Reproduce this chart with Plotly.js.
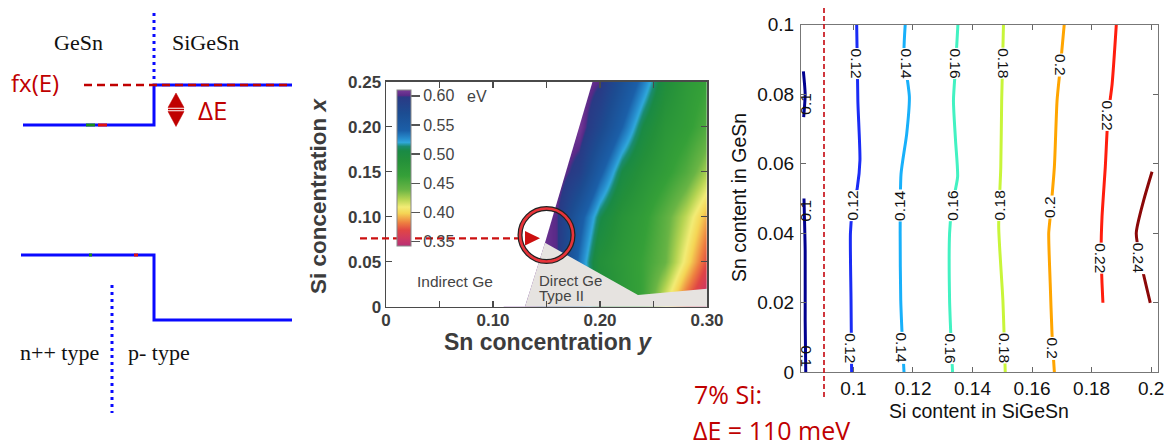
<!DOCTYPE html>
<html><head><meta charset="utf-8">
<script src="https://cdn.plot.ly/plotly-3.0.1.min.js"></script>
<style>html,body{margin:0;padding:0;background:#fff;overflow:hidden}</style>
</head><body><div id="chart" style="width:1170px;height:446px"></div>
<script>
// ---------- Left: band diagram (schematic, panel pixel units) ----------
const cbX = [23,154,154,292], cbY = [125,125,85,85];
const vbX = [21,154,154,292], vbY = [255,255,320,320];
const fermiX = [84,290], fermiY = [85,85];
const ifaceX = [154,154], ifaceY = [13,83];
const junctionX = [112,112], junctionY = [285,413];
const markGreenUpX = [86,95], markGreenUpY = [125,125];
const markRedUpX = [98,107], markRedUpY = [125,125];
const markGreenLoX = [89,92], markGreenLoY = [255,255];
const markRedLoX = [134,138], markRedLoY = [255,255];
const arrowUpX = [168,176,184,168], arrowUpY = [107.5,93,107.5,107.5];
const arrowDnX = [168,176,184,168], arrowDnY = [111.5,126.5,111.5,111.5];

// ---------- Middle: bandgap map (Sn concentration y, Si concentration x) ----------
const snGrid = [0.12,0.14,0.16,0.18,0.20,0.22,0.24,0.26,0.28,0.30];
const siGrid = [0,0.05,0.10,0.15,0.20,0.25];
const bandgapE = [
  [0.61,0.60,0.58,0.54,0.50,0.478,0.46,0.41,0.37,0.34],
  [0.61,0.61,0.60,0.535,0.49,0.475,0.46,0.44,0.405,0.37],
  [0.61,0.61,0.60,0.55,0.508,0.483,0.468,0.445,0.42,0.39],
  [0.61,0.61,0.61,0.59,0.545,0.505,0.485,0.468,0.45,0.425],
  [0.61,0.61,0.61,0.61,0.578,0.54,0.505,0.48,0.468,0.45],
  [0.61,0.61,0.61,0.61,0.60,0.565,0.532,0.495,0.475,0.462]
];
const indirectSn = [0,0.1299,0.1486,0.193,0], indirectSi = [0,0,0.071,0.25,0.25];
const typeIISn = [0.1299,0.1486,0.2355,0.30,0.30], typeIISi = [0,0.071,0.013,0.020,0];
const cbarVals = [0.35,0.40,0.45,0.50,0.55,0.60];
const cbarText = ['0.35','0.40','0.45','0.50','0.55','0.60'];
const mapXTicks = [0,0.05,0.10,0.15,0.20,0.25,0.30];
const mapXText = ['0','','0.10','','0.20','','0.30'];
const mapYTicks = [0,0.05,0.10,0.15,0.20,0.25];
const mapYText = ['0','0.05','0.10','0.15','0.20','0.25'];

// ---------- Right: contour lines (Si content in SiGeSn, Sn content in GeSn) ----------
const c010aX=[0.0832,0.0838,0.0833], c010aY=[0.0866,0.080,0.0734];
const c010bX=[0.0834,0.0838,0.0838,0.0840], c010bY=[0.050,0.035,0.015,0];
const c012X=[0.1011,0.1015,0.1022,0.1013,0.0996,0.0990,0.0992,0.0994], c012Y=[0.1,0.078,0.061,0.053,0.046,0.040,0.021,0];
const c014X=[0.1174,0.1170,0.1188,0.1179,0.1160,0.1157,0.1159,0.1166,0.1170], c014Y=[0.1,0.0917,0.0792,0.0686,0.0571,0.040,0.0208,0.0064,0];
const c016X=[0.1351,0.1343,0.1336,0.1343,0.1350,0.1331,0.1323,0.1323,0.1327,0.1333], c016Y=[0.1,0.0878,0.0782,0.0667,0.0562,0.0476,0.04,0.0208,0.0112,0];
const c018X=[0.1504,0.1498,0.1495,0.1488,0.1502,0.1510], c018Y=[0.1,0.0782,0.0591,0.0419,0.0208,0];
const c020X=[0.1708,0.1695,0.1684,0.1675,0.1661,0.1656,0.1661,0.1667,0.1675], c020Y=[0.1,0.0878,0.0782,0.0591,0.0447,0.04,0.0256,0.0112,0];
const c022X=[0.1883,0.1869,0.1855,0.1846,0.1835,0.1832,0.1835,0.1838], c022Y=[0.1,0.083,0.0734,0.0591,0.0447,0.0352,0.0256,0.02];
const c024X=[0.2003,0.1975,0.1950,0.1969,0.1997], c024Y=[0.0577,0.0495,0.04,0.0303,0.02];
const clabText = ['0.1','0.12','0.14','0.16','0.18','0.2','0.22','0.1','0.12','0.14','0.16','0.18','0.2','0.22','0.24','0.1','0.12','0.14','0.16','0.18','0.2'];
const clabX = [0.0841,0.1009,0.1177,0.1342,0.1504,0.1695,0.1855,0.0838,0.0998,0.1157,0.1334,0.1491,0.1661,0.1832,0.1958,0.0841,0.0992,0.1163,0.1327,0.1507,0.1670];
const clabY = [0.0773,0.0888,0.0888,0.0888,0.0888,0.0883,0.0739,0.0466,0.0479,0.0479,0.0479,0.0479,0.0476,0.0328,0.0328,0.0045,0.0069,0.0069,0.0069,0.0069,0.0069];
const clabAngle = [-90,90,90,90,90,90,90,-90,-90,-90,-90,-90,-90,90,90,90,90,90,90,90,90];
const ctXTicks = [0.1,0.12,0.14,0.16,0.18,0.2], ctXText = ['0.1','0.12','0.14','0.16','0.18','0.2'];
const ctYTicks = [0,0.02,0.04,0.06,0.08,0.1], ctYText = ['0','0.02','0.04','0.06','0.08','0.1'];

// ---------- styles ----------
const RED = '#c00000', BLUE = '#0a0aff';
const SANS = 'Liberation Sans, Arial, sans-serif';
const SERIF = 'Liberation Serif, Times New Roman, serif';
const SEGOE = 'Open Sans, Noto Sans, sans-serif';

const traces = [];
function pline(x, y, color, width, dash) {
  traces.push({x, y, xaxis:'x', yaxis:'y', mode:'lines', hoverinfo:'skip',
    line:{color, width, dash: dash || 'solid'}});
}
pline(cbX, cbY, BLUE, 3);
pline(vbX, vbY, BLUE, 3);
pline(markGreenUpX, markGreenUpY, '#1a8a1a', 3);
pline(markRedUpX, markRedUpY, '#e01010', 3);
pline(markGreenLoX, markGreenLoY, '#1a8a1a', 3);
pline(markRedLoX, markRedLoY, '#e01010', 3);
pline(fermiX, fermiY, RED, 2.5, '8px,5px');
pline(ifaceX, ifaceY, BLUE, 3, '3px,4px');
pline(junctionX, junctionY, BLUE, 3, '3px,4px');
[[arrowUpX, arrowUpY],[arrowDnX, arrowDnY]].forEach(([x,y]) => traces.push({
  x, y, xaxis:'x', yaxis:'y', mode:'lines', fill:'toself', fillcolor:RED,
  line:{color:RED, width:0.5}, hoverinfo:'skip'}));
pline([168,184],[109.5,109.5], RED, 1.5);

// heatmap
traces.push({
  type:'heatmap', x:snGrid, y:siGrid, z:bandgapE, xaxis:'x2', yaxis:'y2',
  zsmooth:'best', zmin:0.3426, zmax:0.61, hoverinfo:'skip',
  colorscale:[
    [0,'#b83075'],[0.05,'#d03a60'],[0.10,'#e04545'],[0.15,'#ee8040'],
    [0.21,'#f5d555'],[0.25,'#f2ec75'],[0.30,'#b5d452'],[0.36,'#6ab545'],
    [0.45,'#35a038'],[0.55,'#24903a'],[0.61,'#1a8a45'],[0.638,'#1a8c70'],
    [0.664,'#30a8dc'],[0.685,'#2890d0'],[0.74,'#1b5fa8'],[0.85,'#1c4d92'],
    [0.955,'#2a3a85'],[0.965,'#5a2a88'],[1,'#7a3a98']],
  colorbar:{x:396.5/1170, xanchor:'left', y:1-168/446, yanchor:'middle',
    len:156/446, lenmode:'fraction', thickness:14, thicknessmode:'pixels',
    outlinewidth:1, outlinecolor:'#888', xpad:0, ypad:0,
    ticks:'outside', ticklen:9, tickwidth:1.5, tickcolor:'#555',
    tickvals:cbarVals, ticktext:cbarText,
    tickfont:{family:SANS, size:16, color:'#444'}}
});
traces.push({x:indirectSn, y:indirectSi, xaxis:'x2', yaxis:'y2', mode:'none',
  fill:'toself', fillcolor:'#ffffff', hoverinfo:'skip'});
traces.push({x:typeIISn, y:typeIISi, xaxis:'x2', yaxis:'y2', mode:'none',
  fill:'toself', fillcolor:'#e6e3e0', hoverinfo:'skip'});

// contours
const ccol = {'0.1':'#00008f','0.12':'#1a2cf5','0.14':'#18b0fa','0.16':'#42f2c2',
  '0.18':'#c8f53a','0.2':'#ffa500','0.22':'#ff1e0e','0.24':'#8b0808'};
[[c010aX,c010aY,'0.1'],[c010bX,c010bY,'0.1'],[c012X,c012Y,'0.12'],[c014X,c014Y,'0.14'],
 [c016X,c016Y,'0.16'],[c018X,c018Y,'0.18'],[c020X,c020Y,'0.2'],[c022X,c022Y,'0.22'],
 [c024X,c024Y,'0.24']].forEach(([x,y,l]) => traces.push({
  x, y, xaxis:'x3', yaxis:'y3', mode:'lines', hoverinfo:'skip',
  line:{color:ccol[l], width:3, shape:'spline', smoothing:0.6}}));

// ---------- annotations ----------
const ann = [];
function txt(text, x, y, size, family, color, extra) {
  ann.push(Object.assign({text, x, y, xref:'x', yref:'y', showarrow:false,
    xanchor:'center', yanchor:'middle', font:{size, family, color}}, extra || {}));
}
txt('GeSn', 78.7, 42, 22, SERIF, '#111');
txt('SiGeSn', 205, 42, 22, SERIF, '#111');
txt('fx(E)', 35.3, 82, 24, SEGOE, RED);
txt('ΔE', 213.3, 110, 26, SEGOE, RED);
txt('n++ type', 59, 352, 22, SERIF, '#111');
txt('p- type', 158.7, 352, 22, SERIF, '#111');

const mapFont = {family:SANS, size:22.5, color:'#3c3c3c', weight:700};
ann.push({text:'Si concentration <i>x</i>', x:318, y:196, xref:'x', yref:'y', showarrow:false,
  textangle:-90, font:mapFont});
ann.push({text:'Sn concentration <i>y</i>', x:547.5, y:342, xref:'x', yref:'y', showarrow:false,
  font:Object.assign({}, mapFont, {size:23})});
txt('eV', 476.7, 96, 16, SANS, '#444');
txt('Indirect Ge', 455.3, 281, 15.5, SANS, '#444');
txt('Direct Ge', 538, 280.5, 15, SANS, '#444', {xanchor:'left', borderpad:0});
txt('Type II', 538, 295, 15, SANS, '#444', {xanchor:'left', borderpad:0});

ann.push({text:'Sn content in GeSn', x:739, y:198, xref:'x', yref:'y', showarrow:false,
  textangle:-90, font:{family:SANS, size:19.5, color:'#111'}});
txt('Si content in SiGeSn', 979, 411, 19.5, SANS, '#111');
txt('7% Si:', 692, 394, 25, SEGOE, RED, {xanchor:'left'});
txt('ΔE = 110 meV', 692, 430, 25, SEGOE, RED, {xanchor:'left', borderpad:0});

clabText.forEach((t,i) => ann.push({text:t, x:clabX[i], y:clabY[i], xref:'x3', yref:'y3',
  showarrow:false, textangle:clabAngle[i], bgcolor: t==='0.1' ? 'rgba(0,0,0,0)' : '#ffffff',
  borderpad:0, font:{family:SANS, size:15.5, color:'#111'}}));

// ---------- shapes: marker arrow, circle, 7% Si line ----------
const arrowLine = {x0:360, x1:525, y:238.3};
const arrowHead = {x0:525, tip:540, half:7.3};
const circ = {cx:546.5, cy:235, r:26.5};
const siLine = {x:824, y0:8, y1:398};
const shapes = [
  {type:'line', xref:'x', yref:'y', x0:arrowLine.x0, x1:arrowLine.x1, y0:arrowLine.y, y1:arrowLine.y,
   line:{color:'#cc1010', width:2.2, dash:'7px,4px'}, layer:'above'},
  {type:'path', xref:'x', yref:'y', layer:'above', fillcolor:'#cc1010', line:{width:0},
   path:`M${arrowHead.x0},${arrowLine.y-arrowHead.half} L${arrowHead.tip},${arrowLine.y} L${arrowHead.x0},${arrowLine.y+arrowHead.half} Z`},
  {type:'circle', xref:'x', yref:'y', layer:'above', x0:circ.cx-circ.r, x1:circ.cx+circ.r,
   y0:circ.cy-circ.r, y1:circ.cy+circ.r, line:{color:'#222', width:5}},
  {type:'circle', xref:'x', yref:'y', layer:'above', x0:circ.cx-circ.r, x1:circ.cx+circ.r,
   y0:circ.cy-circ.r, y1:circ.cy+circ.r, line:{color:'#e8343a', width:2.6}},
  {type:'line', xref:'x', yref:'y', layer:'above', x0:siLine.x, x1:siLine.x, y0:siLine.y0, y1:siLine.y1,
   line:{color:'#c8141c', width:1.7, dash:'5px,3px'}}
];

const mapAxis = {showline:true, mirror:'ticks', linecolor:'#4a4a4a', linewidth:1.5,
  ticks:'inside', ticklen:6, tickwidth:1.5, tickcolor:'#4a4a4a', showgrid:false, zeroline:false,
  fixedrange:true, tickfont:{family:SANS, size:17, color:'#3c3c3c', weight:700}};
const ctAxis = {showline:true, mirror:'ticks', linecolor:'#777', linewidth:1,
  ticks:'inside', ticklen:5, tickwidth:1, tickcolor:'#666', showgrid:false, zeroline:false,
  fixedrange:true, tickfont:{family:SANS, size:19, color:'#111'}};

const layout = {
  width:1170, height:446, margin:{l:0,r:0,t:0,b:0}, showlegend:false,
  paper_bgcolor:'#ffffff', plot_bgcolor:'rgba(0,0,0,0)',
  xaxis:{domain:[0,1], range:[0,1170], visible:false, fixedrange:true},
  yaxis:{domain:[0,1], range:[446,0], visible:false, fixedrange:true},
  xaxis2:Object.assign({}, mapAxis, {domain:[386/1170, 707/1170], range:[0,0.30], anchor:'y2',
    tickvals:mapXTicks, ticktext:mapXText, ticklabelstandoff:-3}),
  yaxis2:Object.assign({}, mapAxis, {domain:[1-306.7/446, 1-81.7/446], range:[0,0.25], anchor:'x2',
    tickvals:mapYTicks, ticktext:mapYText, ticklabelstandoff:0}),
  xaxis3:Object.assign({}, ctAxis, {domain:[801/1170, 1157.7/1170], range:[0.0824,0.2022], anchor:'y3',
    tickvals:ctXTicks, ticktext:ctXText, ticklabelstandoff:-1}),
  yaxis3:Object.assign({}, ctAxis, {domain:[1-372.3/446, 1-24.7/446], range:[0,0.1], anchor:'x3',
    tickvals:ctYTicks, ticktext:ctYText, ticklabelstandoff:2}),
  annotations:ann, shapes:shapes
};
Plotly.newPlot('chart', traces, layout, {displayModeBar:false, staticPlot:true});
</script></body></html>
